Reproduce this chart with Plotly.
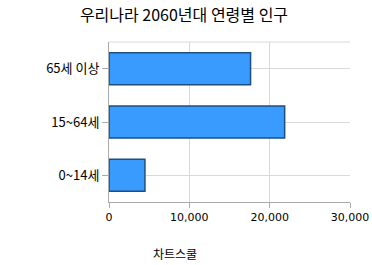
import plotly.graph_objects as go

categories = ["0~14세", "15~64세", "65세 이상"]
values = [4473, 21865, 17622]
x_ticks = [0, 10000, 20000, 30000]
x_tick_labels = ["0", "10,000", "20,000", "30,000"]
title_text = "우리나라 2060년대 연령별 인구"
axis_title = "차트스쿨"

FONT = "DejaVu Sans, Noto Sans CJK KR, sans-serif"
KFONT = "Noto Sans CJK KR, sans-serif"

fig = go.Figure()
fig.add_trace(go.Bar(
    y=categories, x=values, orientation="h",
    width=0.6,
    marker=dict(color="#3a9bff", line=dict(color="#1d4f80", width=1.5)),
))

fig.update_layout(
    width=372, height=265,
    margin=dict(l=109, r=22, t=42, b=63, autoexpand=False),
    paper_bgcolor="white", plot_bgcolor="white",
    showlegend=False,
    font=dict(family=FONT, color="#000000"),
    title=dict(text=title_text, x=(184) / 372, xanchor="center", y=1 - 15 / 265, yanchor="middle",
               font=dict(family=KFONT, size=16, color="#000000")),
    xaxis=dict(
        range=[0, 30000], tickvals=x_ticks, ticktext=x_tick_labels,
        showgrid=True, gridcolor="#d9d9d9", gridwidth=1,
        showline=True, linecolor="#aaaaaa", linewidth=1,
        ticks="outside", ticklen=5, tickcolor="#aaaaaa",
        tickfont=dict(size=11, family=FONT), zeroline=False, fixedrange=True,
        automargin=False,
    ),
    yaxis=dict(
        categoryorder="array", categoryarray=categories,
        showgrid=True, gridcolor="#d9d9d9", gridwidth=1,
        showline=True, linecolor="#aaaaaa", linewidth=1,
        ticks="outside", ticklen=6, tickcolor="#aaaaaa",
        tickfont=dict(size=13, family=KFONT),
        zeroline=False, fixedrange=True, automargin=False,
    ),
    shapes=[dict(type="line", xref="paper", yref="paper", x0=0, x1=1, y0=1, y1=1,
                 line=dict(color="#d9d9d9", width=1))],
    annotations=[dict(text=axis_title, xref="paper", yref="paper",
                      x=(175 - 109) / (350 - 109), y=-(253 - 202) / (202 - 42),
                      xanchor="center", yanchor="middle", showarrow=False,
                      font=dict(family=KFONT, size=12, color="#000000"))],
)

fig.write_html("out.html")
